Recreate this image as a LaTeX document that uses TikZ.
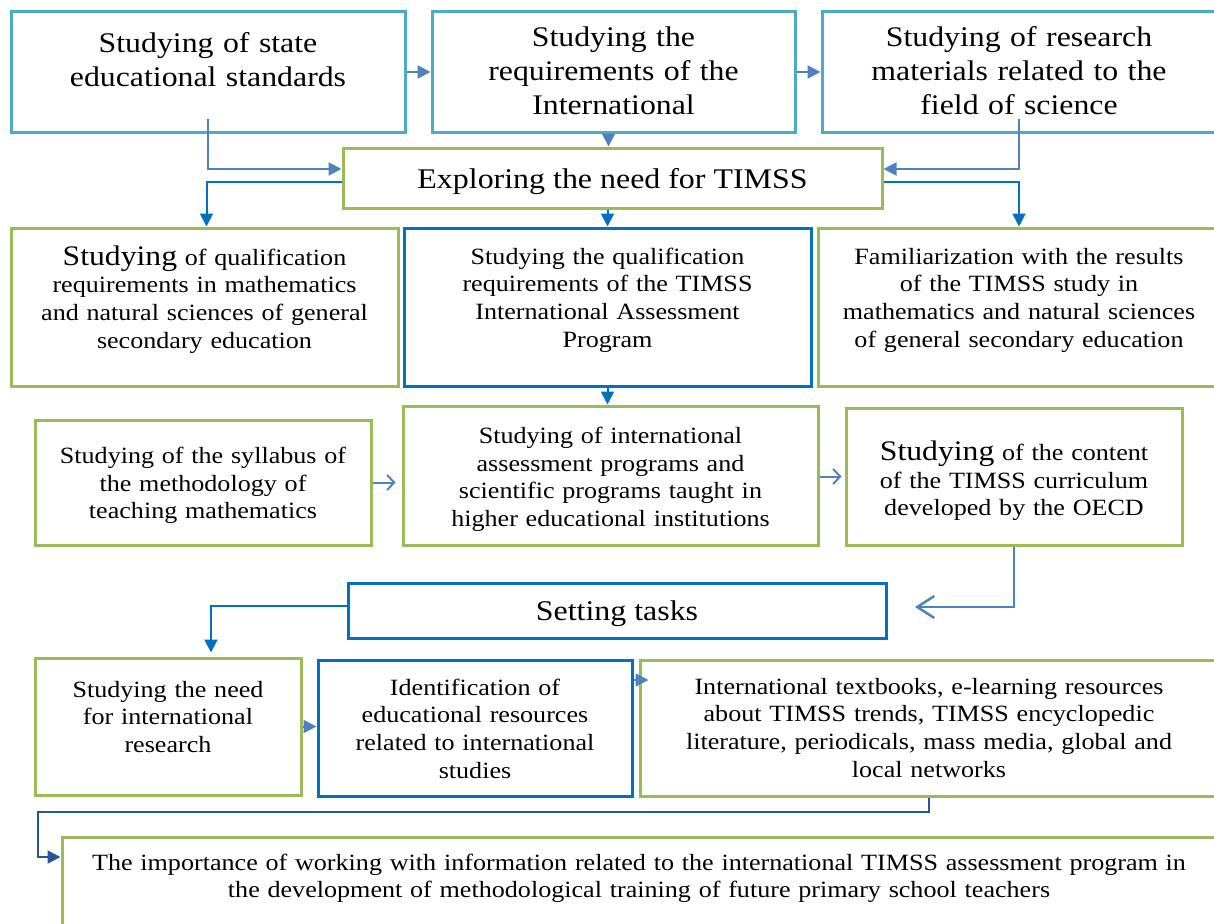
\documentclass[tikz,border=0pt]{standalone}
\usepackage{fontspec}
\setmainfont[FakeStretch=1.12]{Liberation Serif}
\usetikzlibrary{arrows.meta}
\definecolor{topblue}{HTML}{4BACC6}
\definecolor{boxgreen}{HTML}{9BBB59}
\definecolor{boxblue}{HTML}{0070C0}
\definecolor{arrowblue}{HTML}{4F81BD}
\definecolor{navy}{HTML}{2A5594}
\def \fontTop{\fontsize{28.4}{34}\selectfont}
\def \fontRow{\fontsize{23.3}{27.7}\selectfont}
\def \fontHead{\fontsize{28.5}{34}\selectfont}
\def \bigStudying{{\fontsize{28.3}{28}\selectfont Studying}}
\tikzset{
 box/.style={draw, line width=3pt, align=center, inner sep=0pt, font=\fontRow},
 boxTop/.style={box, draw=topblue, font=\fontTop},
 boxGreen/.style={box, draw=boxgreen},
 boxBlue/.style={box, draw=boxblue},
 lift/.style={text height=0pt, text depth=#1},
 drop/.style={text height=#1, text depth=0pt},
 arrowFill/.style={draw=arrowblue, line width=2pt, -{Triangle[length=13pt, width=13pt]}},
 arrowDark/.style={arrowFill, draw=boxblue},
 arrowNavy/.style={arrowFill, draw=navy},
 arrowOpen/.style={draw=arrowblue, line width=2pt, -{Straight Barb[length=7pt, width=15pt]}},
 arrowWide/.style={draw=arrowblue, line width=2.5pt, -{Straight Barb[length=17pt, width=22pt]}}
}

\begin{document}
\begin{tikzpicture}[x=1pt, y=-1pt]
\useasboundingbox (0,0) rectangle (1214,923);
\clip (0,0) rectangle (1214,923);

% first row
\node[boxTop, lift=38pt, minimum width=394pt, minimum height=120pt, text width=380pt] (stateStd) at (208,72)
 {Studying of state\\educational standards};
\node[boxTop, lift=50pt, minimum width=363pt, minimum height=120pt, text width=350pt] (intlReq) at (613.5,72)
 {Studying the\\requirements of the\\International};
\node[boxTop, lift=50pt, minimum width=394pt, minimum height=120pt, text width=380pt] (researchMat) at (1019,72)
 {Studying of research\\materials related to the\\field of science};

\node[boxGreen, font=\fontHead, drop=20pt, minimum width=539pt, minimum height=60pt] (needTimss) at (612.5,178)
 {Exploring the need for TIMSS};

% second row
\node[boxGreen, lift=84pt, minimum width=387pt, minimum height=158pt, text width=380pt] (qualNat) at (204.5,307)
 {\bigStudying{} of qualification\\requirements in mathematics\\and natural sciences of general\\secondary education};
\node[boxBlue, lift=86pt, minimum width=407pt, minimum height=158pt, text width=395pt] (qualTimss) at (607.5,307)
 {Studying the qualification\\requirements of the TIMSS\\International Assessment\\Program};
\node[boxGreen, lift=86pt, minimum width=402pt, minimum height=158pt, text width=395pt] (resultsTimss) at (1019,307)
 {Familiarization with the results\\of the TIMSS study in\\mathematics and natural sciences\\of general secondary education};

% third row
\node[boxGreen, lift=38pt, minimum width=336pt, minimum height=125pt, text width=330pt] (syllabus) at (203,482.5)
 {Studying of the syllabus of\\the methodology of\\teaching mathematics};
\node[boxGreen, lift=64pt, minimum width=415pt, minimum height=139pt, text width=405pt] (assessProg) at (610.5,475.5)
 {Studying of international\\assessment programs and\\scientific programs taught in\\higher educational institutions};
\node[boxGreen, lift=32pt, minimum width=336pt, minimum height=137pt, text width=330pt] (curriculum) at (1014,476.5)
 {\bigStudying{} of the content\\of the TIMSS curriculum\\developed by the OECD};

\node[boxBlue, font=\fontHead, drop=19pt, minimum width=538pt, minimum height=55pt] (tasks) at (617,610.5)
 {Setting tasks};

% fourth row
\node[boxGreen, lift=59pt, minimum width=266pt, minimum height=137pt, text width=260pt] (needResearch) at (168,726.5)
 {Studying the need\\for international\\research};
\node[boxBlue, lift=66pt, minimum width=314pt, minimum height=136pt, text width=308pt] (resources) at (475,728)
 {Identification of\\educational resources\\related to international\\studies};
\node[boxGreen, lift=68pt, minimum width=578pt, minimum height=136pt, text width=570pt] (textbooks) at (929,728)
 {International textbooks, e-learning resources\\about TIMSS trends, TIMSS encyclopedic\\literature, periodicals, mass media, global and\\local networks};

\node[boxGreen, lift=54pt, minimum width=1154pt, minimum height=120pt, text width=1148pt] (importance) at (639,897)
 {The importance of working with information related to the international TIMSS assessment program in\\the development of methodological training of future primary school teachers};

\coordinate (tasksIn) at (915,607);
\coordinate (bendLeft) at (38,812);

% connectors
\draw[arrowFill] (stateStd) -- (intlReq);
\draw[arrowFill] (intlReq) -- (researchMat);
\draw[arrowFill] ([yshift=14pt]stateStd.south) |- ([yshift=9pt]needTimss.west);
\draw[arrowFill] ([yshift=14pt]researchMat.south) |- ([yshift=9pt]needTimss.east);
\draw[arrowFill] ([xshift=-5pt]intlReq.south) -- ([xshift=-5pt]intlReq.south |- needTimss.north);

\draw[arrowDark] ([yshift=-4pt]needTimss.west) -| ([xshift=2pt]qualNat.north);
\draw[arrowDark] ([yshift=-4pt]needTimss.east) -| (resultsTimss.north);
\draw[arrowDark] (qualTimss.north |- needTimss.south) -- (qualTimss.north);
\draw[arrowDark] (qualTimss.south) -- (qualTimss.south |- assessProg.north);

\draw[arrowOpen, shorten >=6pt] (syllabus.east) -- (syllabus.east -| assessProg.west);
\draw[arrowOpen, shorten >=3pt] (assessProg.east |- curriculum.west) -- (curriculum.west);
\draw[arrowWide] (curriculum.south) |- (tasksIn);

\draw[arrowDark] ([yshift=5pt]tasks.west) -| ([xshift=43pt, yshift=4pt]needResearch.north);
\draw[arrowFill] (needResearch.east) -- (needResearch.east -| resources.west);
\draw[arrowFill] ([yshift=48pt]resources.east) -- ([yshift=48pt, xshift=10pt]textbooks.west);
\draw[arrowNavy] (textbooks.south) |- (bendLeft) |- ([yshift=40pt]importance.west);
\end{tikzpicture}
\end{document}
